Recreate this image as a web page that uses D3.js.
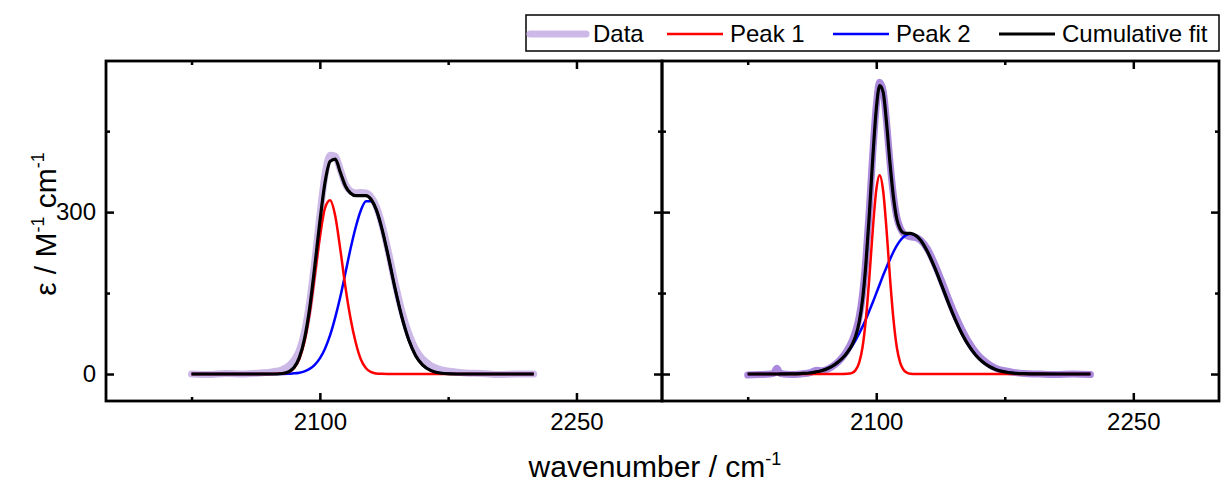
<!DOCTYPE html>
<html>
<head>
<meta charset="utf-8">
<style>
  body { margin: 0; background: #fff; }
  text { font-family: "Liberation Sans", Arial, sans-serif; fill: #000; }
</style>
</head>
<body>
<svg id="svg" width="1221" height="486"></svg>

<script src="https://cdn.jsdelivr.net/npm/d3@7"></script>
<script type="text/javascript">
// ---- data ----
const xMajor = [2100, 2250];
const xMinor = [2025, 2175];
const yMajor = [0, 300];
const yMinor = [150, 450];
const xDomain = [1975, 2300];
const yDomain = [-50, 580];
const legendNames = ["Data", "Peak 1", "Peak 2", "Cumulative fit"];

// left panel
const wnL = [2025, 2035, 2045, 2055, 2065, 2072, 2078, 2082, 2085, 2088, 2091, 2094, 2097, 2100, 2103,
  2106, 2109, 2112, 2115, 2118, 2121, 2124, 2127, 2130, 2133, 2136, 2140, 2144, 2148, 2152,
  2156, 2160, 2165, 2170, 2176, 2185, 2195, 2205, 2215, 2225];
const dataL = [0, -1, 1, 0, 2, 4, 8, 15.5, 26, 43.5, 77.5, 132, 207.5, 293, 368.5,
  405.5, 403.5, 378, 351, 338.5, 335.5, 336.5, 335.5, 328, 310.5, 280.5, 227, 168, 115.5, 74.5,
  45.5, 28, 15.5, 8.5, 5, 2, 1, -1, 0, 0];
const peak1L = [0, 0, 0, 0, 0, 0, 0.8, 3.9, 11.2, 27.8, 59.8, 111.5, 181.5, 253, 307.5,
  322, 293, 230, 160, 102, 58, 27, 10.7, 3.4, 1, 0.3, 0, 0, 0, 0,
  0, 0, 0, 0, 0, 0, 0, 0, 0, 0];
const peak2L = [0, 0, 0, 0, 0, 0, 0.2, 0.6, 1.2, 2.5, 5, 9.5, 17, 29, 47,
  72, 105, 143.5, 188, 233, 272.5, 303.5, 320, 320, 303.5, 272.5, 218, 158, 105, 63,
  34, 17, 6.2, 1.9, 0.4, 0, 0, 0, 0, 0];
const fitL = [0, 0, 0, 0, 0, 0, 1, 4.5, 12.4, 30.3, 64.8, 121, 198.5, 282, 354.5,
  394, 398, 373.5, 348, 335, 330.5, 330.5, 330.7, 323.4, 304.5, 272.8, 218, 158, 105, 63,
  34, 17, 6.2, 1.9, 0.4, 0, 0, 0, 0, 0];

// right panel
const wnR = [2025, 2032, 2038, 2040, 2042, 2044, 2050, 2056, 2062, 2065, 2068, 2072, 2076, 2080, 2083,
  2086, 2088, 2090, 2092, 2094, 2096, 2098, 2100, 2102, 2104, 2106, 2108, 2110, 2112, 2114,
  2116, 2118, 2120, 2123, 2126, 2130, 2134, 2138, 2142, 2146, 2150, 2154, 2158, 2162, 2166,
  2170, 2175, 2180, 2186, 2195, 2205, 2215, 2225];
const dataR = [-2, -1, 0, 1, 10.5, 1, -1, 0, 3, 7, 6, 9.5, 17.5, 30, 43.5,
  62, 79.5, 105, 147.5, 215.5, 306.5, 409.5, 496.5, 540.5, 525.5, 467.5, 393, 332, 291, 270.5,
  260, 256, 254, 253, 247.5, 231, 204.5, 173.5, 140.5, 109.5, 82.5, 59, 40.5, 27, 17.5,
  10.5, 6, 3, 1, 0, -1, 0, -1];
const peak1R = [0, 0, 0, 0, 0, 0, 0, 0, 0, 0, 0, 0, 0, 0, 0.3,
  2.2, 7.3, 20.7, 49.5, 103, 179.5, 268, 340.5, 368.5, 340.5, 268, 179.5, 103, 49.5, 20.7,
  7.3, 2.2, 0.6, 0, 0, 0, 0, 0, 0, 0, 0, 0, 0, 0, 0,
  0, 0, 0, 0, 0, 0, 0, 0];
const peak2R = [0, 0, 0, 0, 0, 0.1, 0.3, 0.9, 2.4, 4, 6.1, 10.7, 17.8, 28.3, 39.1,
  52.4, 63, 74.7, 87.8, 101.9, 117.4, 132.9, 149.4, 165.9, 182.4, 197.9, 212.4, 226, 237.7, 247.4,
  254.1, 258.5, 260, 256.8, 247.4, 226, 197.9, 165.9, 132.9, 101.9, 74.7, 52.4, 35.2, 22.6, 13.9,
  8.1, 4, 1.7, 0.6, 0.1, 0, 0, 0];
const fitR = [0, 0, 0, 0, 0, 0.1, 0.3, 0.9, 2.4, 4, 6.1, 10.7, 17.8, 28.3, 39.4,
  54.6, 70.3, 95.4, 137.3, 204.9, 296.9, 400.9, 489.9, 534.4, 522.9, 465.9, 391.9, 329, 287.2, 268.1,
  261.4, 260.7, 260.6, 256.8, 247.4, 226, 197.9, 165.9, 132.9, 101.9, 74.7, 52.4, 35.2, 22.6, 13.9,
  8.1, 4, 1.7, 0.6, 0.1, 0, 0, 0];

// ---- layout ----
const plotTop = 61, plotBottom = 401;
const panels = [
  { x0: 106, x1: 662, wn: wnL, data: dataL, p1: peak1L, p2: peak2L, fit: fitL, dataColor: "#cdb9e7", labels: true },
  { x0: 662, x1: 1219, wn: wnR, data: dataR, p1: peak1R, p2: peak2R, fit: fitR, dataColor: "#ab8ade", labels: false }
];
const colors = { p1: "#ff0000", p2: "#0000ff", fit: "#000000" };
const fontSize = 24;

const svg = d3.select("#svg");

function styleAxis(g) {
  g.select(".domain").remove();
  g.selectAll(".tick line").attr("stroke", "#000").attr("stroke-width", 2.5);
  g.selectAll(".tick text").attr("font-size", fontSize).attr("fill", "#000")
    .attr("font-family", "Liberation Sans, Arial, sans-serif");
}

panels.forEach(function (p) {
  const x = d3.scaleLinear().domain(xDomain).range([p.x0, p.x1]);
  const y = d3.scaleLinear().domain(yDomain).range([plotBottom, plotTop]);
  const g = svg.append("g");

  // ticks, all pointing inward
  g.append("g").attr("transform", "translate(0," + plotBottom + ")")
    .call(d3.axisBottom(x).tickValues(xMajor).tickSize(-8).tickPadding(12).tickFormat(d3.format("d")))
    .call(styleAxis);
  g.append("g").attr("transform", "translate(0," + plotBottom + ")")
    .call(d3.axisBottom(x).tickValues(xMinor).tickSize(-4).tickFormat(""))
    .call(styleAxis);
  g.append("g").attr("transform", "translate(0," + plotTop + ")")
    .call(d3.axisTop(x).tickValues(xMajor).tickSize(-8).tickFormat(""))
    .call(styleAxis);
  g.append("g").attr("transform", "translate(0," + plotTop + ")")
    .call(d3.axisTop(x).tickValues(xMinor).tickSize(-4).tickFormat(""))
    .call(styleAxis);
  g.append("g").attr("transform", "translate(" + p.x0 + ",0)")
    .call(d3.axisLeft(y).tickValues(yMajor).tickSize(-8).tickPadding(10)
      .tickFormat(p.labels ? d3.format("d") : ""))
    .call(styleAxis);
  g.append("g").attr("transform", "translate(" + p.x0 + ",0)")
    .call(d3.axisLeft(y).tickValues(yMinor).tickSize(-4).tickFormat(""))
    .call(styleAxis);
  g.append("g").attr("transform", "translate(" + p.x1 + ",0)")
    .call(d3.axisRight(y).tickValues(yMajor).tickSize(-8).tickFormat(""))
    .call(styleAxis);
  g.append("g").attr("transform", "translate(" + p.x1 + ",0)")
    .call(d3.axisRight(y).tickValues(yMinor).tickSize(-4).tickFormat(""))
    .call(styleAxis);

  const line = function (vals) {
    return d3.line()
      .x(function (d, i) { return x(p.wn[i]); })
      .y(function (d) { return y(d); })
      .curve(d3.curveMonotoneX)(vals);
  };

  g.append("path").attr("d", line(p.data)).attr("fill", "none")
    .attr("stroke", p.dataColor).attr("stroke-width", 7)
    .attr("stroke-linejoin", "round").attr("stroke-linecap", "round");
  g.append("path").attr("d", line(p.p2)).attr("fill", "none")
    .attr("stroke", colors.p2).attr("stroke-width", 2.5);
  g.append("path").attr("d", line(p.p1)).attr("fill", "none")
    .attr("stroke", colors.p1).attr("stroke-width", 2.5);
  g.append("path").attr("d", line(p.fit)).attr("fill", "none")
    .attr("stroke", colors.fit).attr("stroke-width", 3.2);

  // frame
  g.append("rect").attr("x", p.x0).attr("y", plotTop)
    .attr("width", p.x1 - p.x0).attr("height", plotBottom - plotTop)
    .attr("fill", "none").attr("stroke", "#000").attr("stroke-width", 2.8);
});

// ---- axis titles ----
const xt = svg.append("text").attr("x", 655).attr("y", 477)
  .attr("text-anchor", "middle").attr("font-size", 30);
xt.append("tspan").text("wavenumber / cm");
xt.append("tspan").text("-1").attr("font-size", 18).attr("dy", -12);

const yt = svg.append("text")
  .attr("transform", "translate(56,224) rotate(-90)")
  .attr("text-anchor", "middle").attr("font-size", 30);
yt.append("tspan").text("\u03b5 / M");
yt.append("tspan").text("-1").attr("font-size", 18).attr("dy", -12);
yt.append("tspan").text(" cm").attr("dy", 12);
yt.append("tspan").text("-1").attr("font-size", 18).attr("dy", -12);

// ---- legend ----
const leg = svg.append("g");
leg.append("rect").attr("x", 526).attr("y", 15).attr("width", 693).attr("height", 36)
  .attr("fill", "#fff").attr("stroke", "#000").attr("stroke-width", 1.5);
const legItems = [
  { name: legendNames[0], color: panels[0].dataColor, w: 7, x: 530 },
  { name: legendNames[1], color: colors.p1, w: 2.5, x: 667 },
  { name: legendNames[2], color: colors.p2, w: 2.5, x: 833 },
  { name: legendNames[3], color: colors.fit, w: 2.8, x: 999 }
];
legItems.forEach(function (it) {
  leg.append("line").attr("x1", it.x).attr("x2", it.x + 56).attr("y1", 34).attr("y2", 34)
    .attr("stroke", it.color).attr("stroke-width", it.w).attr("stroke-linecap", it.w > 5 ? "round" : "butt");
  leg.append("text").attr("x", it.x + 63).attr("y", 42).attr("font-size", fontSize).text(it.name);
});
</script>
</body>
</html>
